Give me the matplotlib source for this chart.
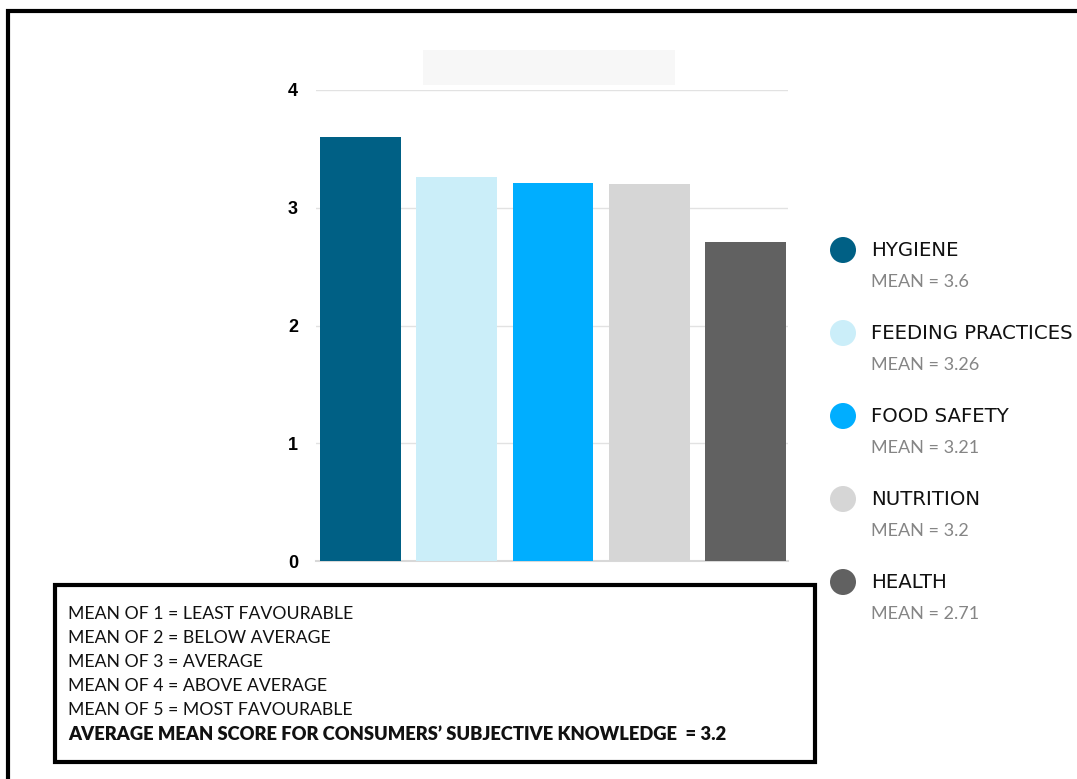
import matplotlib
matplotlib.use("Agg")
import matplotlib.pyplot as plt
from matplotlib.patches import Circle, Rectangle
from matplotlib.lines import Line2D

# Data
categories = ["HYGIENE", "FEEDING PRACTICES", "FOOD SAFETY", "NUTRITION", "HEALTH"]
means = [3.6, 3.26, 3.21, 3.2, 2.71]
colors = ["#006085", "#cbeef9", "#00aeff", "#d6d6d6", "#616161"]
y_ticks = [0, 1, 2, 3, 4]
scale_notes = [
    "MEAN OF 1 = LEAST FAVOURABLE",
    "MEAN OF 2 = BELOW AVERAGE",
    "MEAN OF 3 = AVERAGE",
    "MEAN OF 4 = ABOVE AVERAGE",
    "MEAN OF 5 = MOST FAVOURABLE",
]
summary_note = "AVERAGE MEAN SCORE FOR CONSUMERS\u2019 SUBJECTIVE KNOWLEDGE  = 3.2"

W, H = 1077, 779
fig = plt.figure(figsize=(W / 100, H / 100), dpi=100)
fig.patch.set_facecolor("white")

# Bar chart axes, placed in pixel terms
ax_left, ax_right, ax_top, ax_bottom = 316, 788, 90, 561
ax = fig.add_axes([ax_left / W, (H - ax_bottom) / H,
                   (ax_right - ax_left) / W, (ax_bottom - ax_top) / H])
x = list(range(len(categories)))
ax.bar(x, means, width=0.84, color=colors, zorder=3)
ax.set_xlim(-0.462, 4.44)
ax.set_ylim(0, 4)
ax.set_yticks(y_ticks)
ax.set_yticklabels([str(t) for t in y_ticks], fontsize=13, fontweight="bold",
                   family="Liberation Sans")
ax.tick_params(axis="y", length=0, pad=13)
ax.set_xticks([])
ax.grid(axis="y", color="#e2e2e2", linewidth=1, zorder=0)
for s in ["top", "right", "left"]:
    ax.spines[s].set_visible(False)
ax.spines["bottom"].set_color("#d8d8d8")
ax.spines["bottom"].set_linewidth(1.5)
ax.set_facecolor("none")

# Overlay in pixel coordinates for legend, notes and frame
ov = fig.add_axes([0, 0, 1, 1])
ov.set_xlim(0, W)
ov.set_ylim(H, 0)
ov.axis("off")
ov.patch.set_visible(False)

# faint title placeholder
ov.add_patch(Rectangle((423, 50), 252, 35, facecolor="#f7f7f7", edgecolor="none"))

# outer frame
ov.add_line(Line2D([8, 8, W + 5], [H + 5, 11, 11], color="black", linewidth=3,
                   solid_joinstyle="miter"))

# legend
row_y = [250, 333, 416, 499, 582]
for cat, m, c, yy in zip(categories, means, colors, row_y):
    ov.add_patch(Circle((843, yy), 13, facecolor=c, edgecolor="none"))
    ov.text(871, yy, cat, fontsize=14.2, family="DejaVu Sans", color="#111111",
            va="center", ha="left")
    ov.text(871, yy + 32, f"MEAN = {m:g}", fontsize=13, family="Lato",
            color="#858585", va="center", ha="left")

# notes box
ov.add_patch(Rectangle((55, 585), 760, 177, facecolor="white", edgecolor="black",
                       linewidth=3))
for i, line in enumerate(scale_notes):
    ov.text(68, 614 + 24 * i, line, fontsize=12.7, family="Lato", color="#111111",
            va="center", ha="left")
ov.text(68, 614 + 24 * len(scale_notes), summary_note, fontsize=13.2, family="Lato",
        fontweight="heavy", color="#111111", va="center", ha="left")

fig.savefig("out.png", dpi=100, facecolor="white")
